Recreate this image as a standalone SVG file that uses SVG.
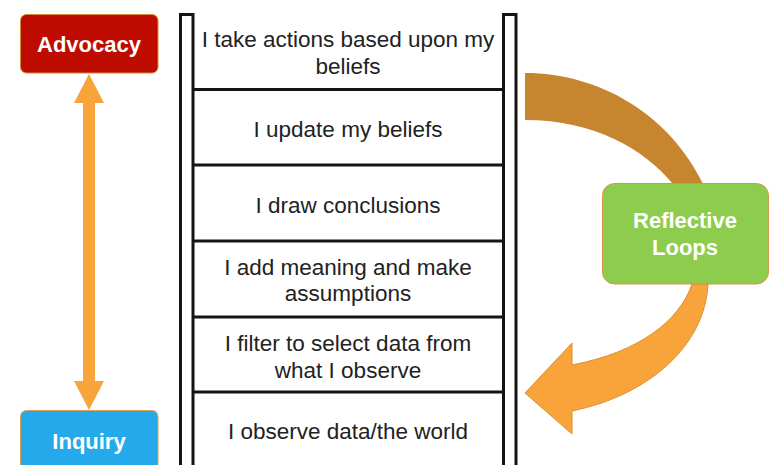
<svg xmlns="http://www.w3.org/2000/svg" width="774" height="465" viewBox="0 0 774 465">
<style>
.rail{fill:none;stroke:#141414;stroke-width:3}
.rung{stroke:#141414;stroke-width:3}
.lt{font-family:"Liberation Sans",Arial,sans-serif;font-size:22.5px;fill:#222;text-anchor:middle}
.bt{font-family:"Liberation Sans",Arial,sans-serif;font-size:22px;font-weight:bold;fill:#fff;text-anchor:middle}
</style>
<rect width="774" height="465" fill="#fff"/>
<g id="connectors">
  <path id="arrow-vertical" d="M89,74 L104,103 L95,103 L95,381 L104,381 L89,410 L74,381 L83,381 L83,103 L74,103 Z" fill="#F9A43A"/>
  <path id="arc-top" d="M525,73 C600,73 670,115 703,184 L673,184 C645,150 595,120 525,120 Z" fill="#C8852F"/>
  <path id="arc-bottom" d="M692,284 C680,320 640,352 572,365 L572,343 L525,393 L572,434 L572,411 C650,395 705,345 708,284 Z" fill="#F9A43A" stroke="#DC8F30" stroke-width="1"/>
</g>
<g id="ladder">
  <path class="rail" d="M180.5,465 V14.5 H193 V465"/>
  <path class="rail" d="M503.5,465 V14.5 H516 V465"/>
  <line class="rung" x1="193" y1="89.5" x2="503.5" y2="89.5"/>
  <line class="rung" x1="193" y1="165" x2="503.5" y2="165"/>
  <line class="rung" x1="193" y1="241" x2="503.5" y2="241"/>
  <line class="rung" x1="193" y1="317" x2="503.5" y2="317"/>
  <line class="rung" x1="193" y1="392" x2="503.5" y2="392"/>
</g>
<g id="step-actions"><text class="lt" x="348" y="47">I take actions based upon my</text><text class="lt" x="348" y="74">beliefs</text></g>
<g id="step-update"><text class="lt" x="348" y="137">I update my beliefs</text></g>
<g id="step-conclusions"><text class="lt" x="348" y="213">I draw conclusions</text></g>
<g id="step-meaning"><text class="lt" x="348" y="275">I add meaning and make</text><text class="lt" x="348" y="301">assumptions</text></g>
<g id="step-filter"><text class="lt" x="348" y="350.5">I filter to select data from</text><text class="lt" x="348" y="377.5">what I observe</text></g>
<g id="step-observe"><text class="lt" x="348" y="439">I observe data/the world</text></g>
<g id="advocacy">
  <rect x="20.5" y="14.5" width="137.5" height="58.5" rx="6" fill="#BE0D00" stroke="#D9893A" stroke-width="1"/>
  <text class="bt" x="89" y="52">Advocacy</text>
</g>
<g id="inquiry">
  <rect x="20.5" y="410.5" width="137.5" height="70" rx="6" fill="#24AAEA" stroke="#D9A05A" stroke-width="1"/>
  <text class="bt" x="89" y="449">Inquiry</text>
</g>
<g id="reflective-loops">
  <rect x="602.5" y="183.5" width="166" height="100.5" rx="12" fill="#8ECC4E" stroke="#D6944A" stroke-width="1"/>
  <text class="bt" x="685" y="228">Reflective</text>
  <text class="bt" x="685" y="255">Loops</text>
</g>
</svg>
